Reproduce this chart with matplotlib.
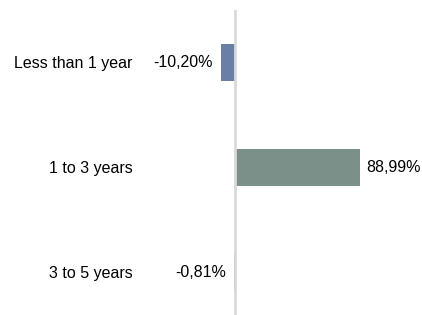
import matplotlib.pyplot as plt

categories = ['Less than 1 year', '1 to 3 years', '3 to 5 years']
values = [-10.20, 88.99, -0.81]
labels = ['-10,20%', '88,99%', '-0,81%']
colors = ['#6a7fa5', '#7b9089', '#9aa0a6']

plt.rcParams['font.family'] = ['Liberation Sans', 'DejaVu Sans']

fig = plt.figure(figsize=(4.22, 3.15), dpi=100)
# axes in pixel terms: left 139px, right 418px, top 10px, bottom 315px
ax = fig.add_axes([139 / 422, 0.0, (418 - 139) / 422, (315 - 10) / 315])

pos = list(range(len(categories)))
ax.barh(pos, values, height=0.35, color=colors, zorder=2)
ax.axvline(0, color='#d9d9d9', linewidth=2, zorder=3)

for p, v, t in zip(pos, values, labels):
    if v < 0:
        ax.text(v - 5.7, p, t, ha='right', va='center', fontsize=11.5, color='#000000')
    else:
        ax.text(v + 4.3, p, t, ha='left', va='center', fontsize=11.5, color='#000000')

ax.set_xlim(-68.3, 130.2)
ax.set_ylim(2.41, -0.5)
ax.set_yticks(pos)
ax.set_yticklabels(categories, fontsize=11.5)
ax.tick_params(axis='y', length=0, pad=4.5)
ax.set_xticks([])
for s in ax.spines.values():
    s.set_visible(False)

fig.savefig('out.png', dpi=100)
